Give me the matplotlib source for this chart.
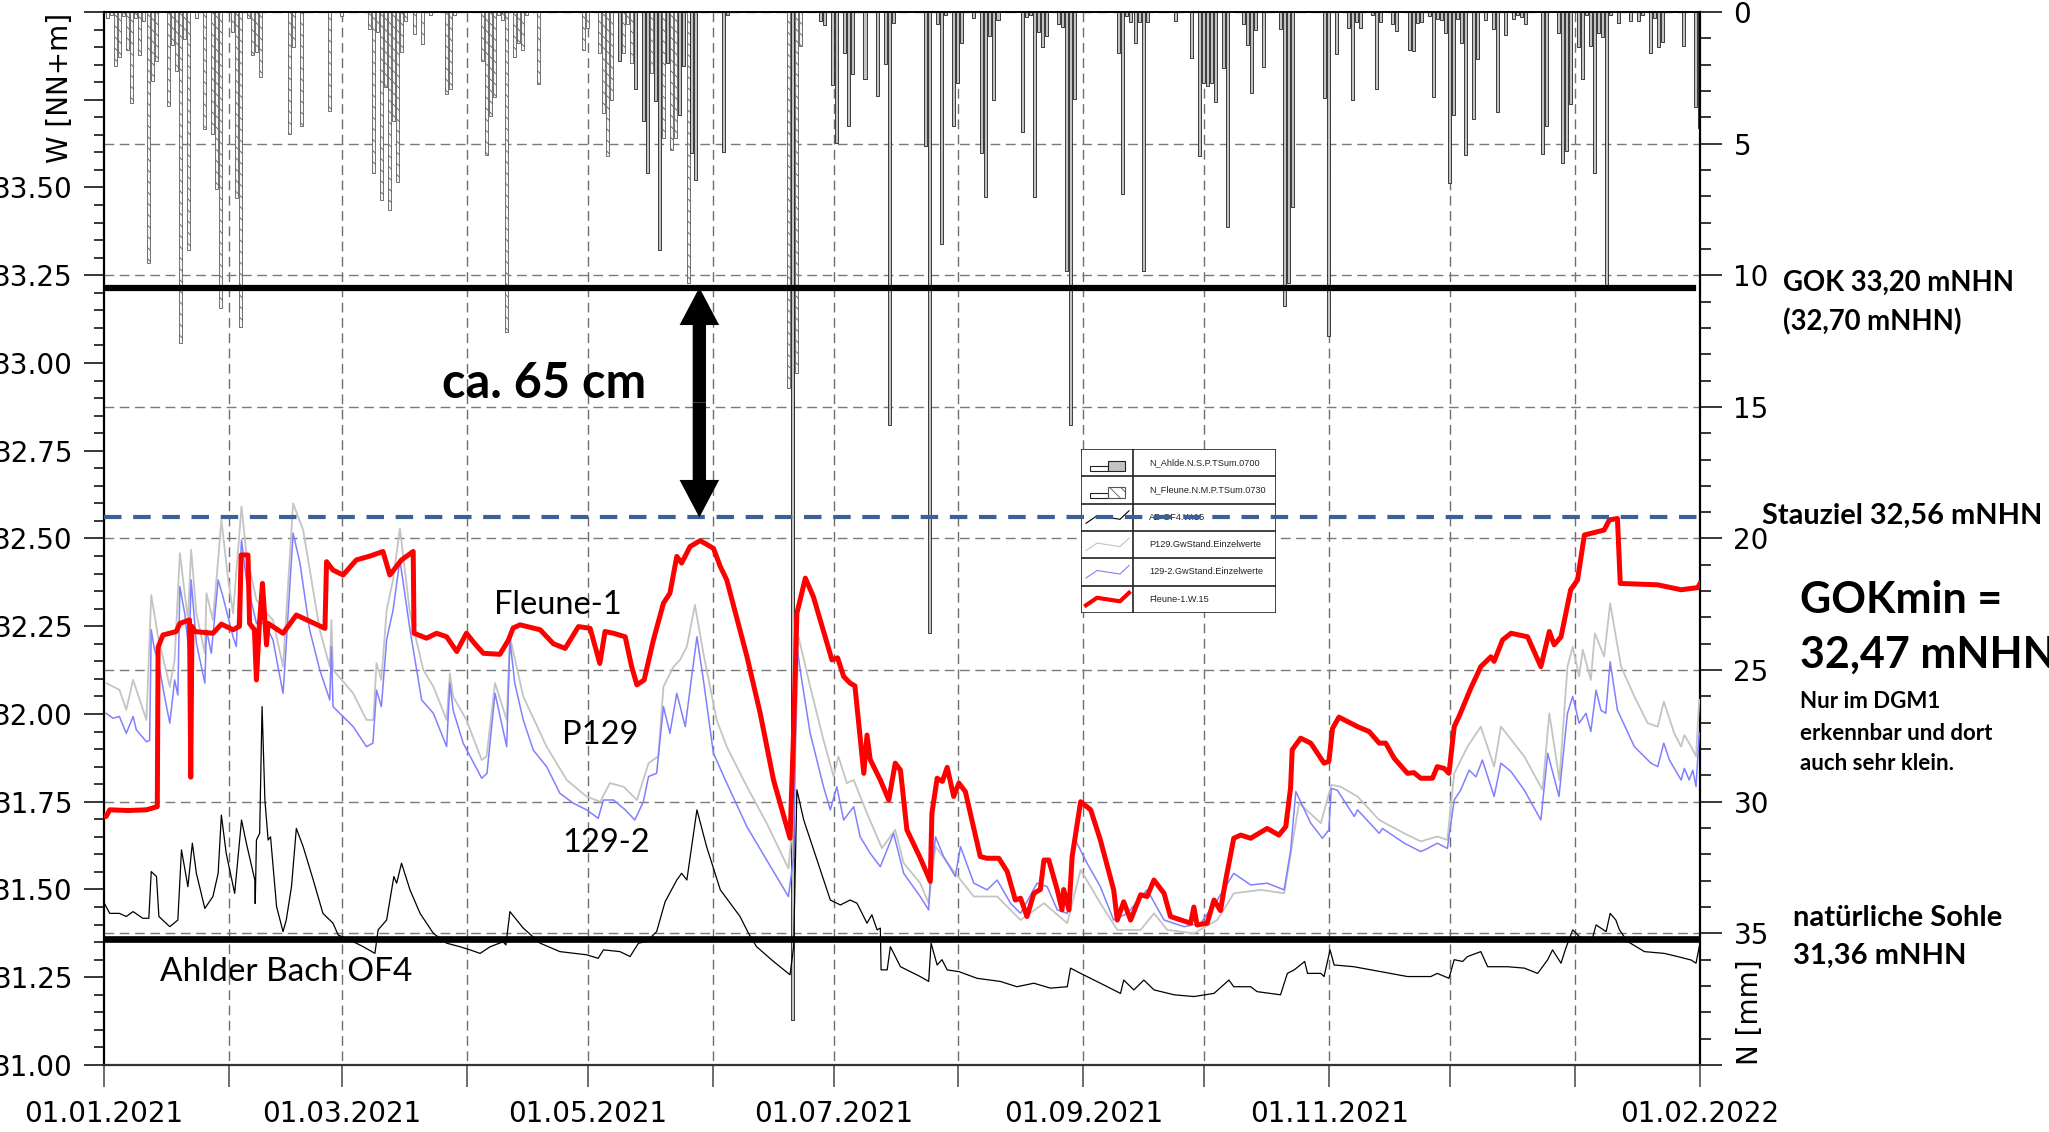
import numpy as np
import matplotlib as mpl
mpl.use('Agg')
import matplotlib.pyplot as plt
from matplotlib.patches import Rectangle
from matplotlib.ticker import MultipleLocator, FuncFormatter

start = np.datetime64('2021-01-01T00:00')
end = np.datetime64('2022-02-01T00:00')

# water levels [m NHN], x = days since 01.01.2021
fleune_day = [0.0, 0.5, 1.4, 6, 10.5, 13.2, 13.4, 14.6, 17.9, 18.8, 21.2, 21.5, 21.8, 22.5, 27.0, 29.1, 32.0, 33.6, 34.0,
              35.7, 36.1, 37.3, 37.8, 38.5, 39.3, 40.0, 40.3, 40.7, 44.4, 47.7, 54.8, 55.2, 56.8, 59.3, 62.6, 66, 69.2,
              70.9, 73.8, 76.7, 76.9, 80.0, 82.5, 85.0, 87.5, 89.9, 92, 94.1, 98.2, 100.3, 101.5, 103.2, 108.2, 111.5,
              114.4, 117.7, 120.6, 123.0, 124.3, 126.4, 129.3, 130.9, 132.2, 134.0, 136.3, 138.8, 140.4, 142.1, 143.3,
              145.4, 147.9, 151.2, 152.9, 154.5, 159.5, 162.8, 166.1, 170.2, 171.1, 171.9, 174.0, 176.0, 180.6, 182.0,
              183.5, 185.1, 186.3, 188.5, 189.3, 190.1, 192.6, 194.7, 196.3, 197.6, 199.2, 202.5, 205.0, 205.4, 206.7,
              208.0, 209.2, 210.8, 212.1, 213.7, 217.4, 219.0, 222.0, 224.1, 226.1, 227.4, 229.0, 230.7, 232.3, 233.2,
              234.4, 236.5, 237.7, 238.1, 239.4, 240.2, 242.3, 244.8, 247.2, 250.5, 251.4, 253.0, 254.7, 257.2, 258.8,
              260.5, 263.0, 264.6, 269.6, 270.4, 271.2, 273.7, 275.4, 277.0, 278.3, 280.3, 282.0, 284.5, 288.6, 291.5,
              293.2, 294.4, 294.8, 296.9, 299.4, 302.7, 303.9, 304.8, 306.4, 311.0, 313.9, 316.4, 318.0, 320.1, 323.4,
              325.0, 326.7, 329.6, 330.8, 332.5, 333.7, 335.0, 336.2, 339.1, 341.6, 344.1, 344.9, 347.0, 349.1, 353.2,
              356.5, 358.6, 359.8, 361.5, 363.9, 365.6, 367.3, 372.2, 373.5, 375.5, 376.2, 385.5, 391.3, 395.4, 396.0]
fleune_w = [31.71, 31.708, 31.727, 31.725, 31.727, 31.736, 32.19, 32.225, 32.235, 32.258, 32.268, 31.82, 32.25, 32.235,
            32.23, 32.256, 32.24, 32.25, 32.453, 32.453, 32.258, 32.24, 32.097, 32.25, 32.372, 32.25, 32.197, 32.258,
            32.23, 32.282, 32.244, 32.434, 32.41, 32.396, 32.439, 32.45, 32.463, 32.396, 32.439, 32.463, 32.23, 32.216,
            32.23, 32.22, 32.178, 32.23, 32.2, 32.173, 32.17, 32.21, 32.245, 32.254, 32.24, 32.2, 32.187, 32.249,
            32.244, 32.144, 32.235, 32.23, 32.22, 32.135, 32.083, 32.097, 32.211, 32.316, 32.344, 32.449, 32.43,
            32.477, 32.494, 32.472, 32.42, 32.382, 32.164, 32.002, 31.812, 31.646, 31.955, 32.287, 32.387, 32.334,
            32.154, 32.16, 32.107, 32.088, 32.08, 31.831, 31.94, 31.87, 31.812, 31.755, 31.86, 31.84, 31.67, 31.59,
            31.523, 31.717, 31.817, 31.808, 31.848, 31.765, 31.803, 31.779, 31.594, 31.589, 31.589, 31.551, 31.47,
            31.475, 31.423, 31.489, 31.5, 31.584, 31.584, 31.499, 31.442, 31.5, 31.442, 31.594, 31.75, 31.727, 31.641,
            31.499, 31.413, 31.465, 31.413, 31.485, 31.48, 31.527, 31.489, 31.423, 31.404, 31.45, 31.399, 31.404,
            31.47, 31.44, 31.527, 31.646, 31.655, 31.646, 31.674, 31.655, 31.679, 31.79, 31.898, 31.931, 31.917,
            31.86, 31.865, 31.959, 31.991, 31.964, 31.95, 31.917, 31.917, 31.874, 31.831, 31.833, 31.817, 31.817,
            31.85, 31.845, 31.831, 31.964, 31.993, 32.073, 32.135, 32.163, 32.15, 32.211, 32.23, 32.22, 32.135,
            32.235, 32.197, 32.22, 32.354, 32.382, 32.51, 32.524, 32.553, 32.557, 32.372, 32.368, 32.354, 32.36, 32.372]

p1292_day = [0.5, 2.2, 3.8, 5.5, 7.2, 8.0, 10.5, 11.3, 11.7, 12.5, 13.4, 15.0, 16.3, 17.5, 18.3, 18.8, 20.0, 21.1, 21.6,
             22.9, 25.0, 25.4, 26.6, 28.3, 29.5, 32.0, 32.8, 34.1, 35.3, 37.8, 39.9, 41.9, 44.4, 44.8, 46.9, 48.6, 51.0,
             53.5, 56.0, 56.4, 56.8, 61.8, 65.1, 66.7, 67.6, 68.8, 70.1, 71.7, 73.4, 75.9, 78.8, 81.7, 85.0, 85.8, 86.6,
             89.1, 93.7, 95.0, 97.0, 99.9, 100.7, 101.9, 104.0, 106.5, 109.8, 113.1, 116.4, 119.7, 122.6, 123.9, 126.4,
             129.3, 131.7, 133.8, 135.1, 137.1, 138.8, 140.4, 142.1, 144.2, 145.8, 147.1, 148.7, 151.2, 154.5, 159.5,
             164.4, 169.8, 171.1, 171.9, 173.1, 175.2, 178.5, 180.2, 181.8, 183.5, 186.0, 187.6, 190.1, 192.6, 195.9,
             198.4, 202.5, 204.6, 205.0, 206.3, 208.3, 211.2, 212.5, 215.8, 219.1, 221.6, 224.9, 227.4, 231.5, 234.0,
             236.5, 239.0, 241.0, 243.9, 247.2, 250.5, 253.9, 258.8, 263.0, 268.0, 272.1, 276.2, 280.3, 284.5, 288.6,
             292.8, 294.4, 295.7, 298.6, 299.4, 302.3, 303.9, 304.5, 306.0, 310.2, 311.0, 316.4, 317.2, 322.6, 326.7,
             328.4, 330.8, 333.3, 335.0, 336.6, 338.7, 340.4, 342.0, 344.9, 346.6, 349.1, 352.4, 356.5, 358.2, 361.0,
             363.1, 364.4, 366.0, 367.7, 368.9, 370.2, 371.4, 372.6, 373.7, 375.5, 379.7, 383.8, 385.5, 387.0, 388.4,
             391.3, 392.1, 393.3, 394.2, 395.0, 395.8]
p1292_w = [32.002, 31.988, 31.993, 31.945, 31.993, 31.955, 31.921, 31.925, 32.24, 32.183, 32.154, 32.05, 31.974, 32.097,
           32.054, 32.363, 32.287, 32.173, 32.382, 32.202, 32.088, 32.24, 32.173, 32.382, 32.334, 32.22, 32.192, 32.496,
           32.382, 32.258, 32.258, 32.211, 32.059, 32.126, 32.515, 32.43, 32.24, 32.126, 32.04, 32.192, 32.021, 31.964,
           31.907, 31.917, 32.068, 32.021, 32.211, 32.296, 32.439, 32.24, 32.04, 32.002, 31.907, 32.088, 32.011,
           31.917, 31.817, 31.831, 32.059, 31.907, 32.211, 32.088, 31.983, 31.897, 31.85, 31.774, 31.746, 31.727,
           31.703, 31.755, 31.755, 31.727, 31.698, 31.75, 31.822, 31.831, 32.021, 31.945, 32.059, 31.964, 32.107,
           32.22, 32.097, 31.888, 31.803, 31.679, 31.584, 31.48, 31.593, 32.192, 32.097, 31.945, 31.793, 31.727,
           31.793, 31.698, 31.736, 31.65, 31.603, 31.565, 31.66, 31.546, 31.48, 31.442, 31.527, 31.65, 31.594, 31.537,
           31.622, 31.518, 31.499, 31.527, 31.461, 31.432, 31.518, 31.508, 31.442, 31.432, 31.641, 31.575, 31.508,
           31.413, 31.432, 31.499, 31.413, 31.394, 31.404, 31.47, 31.546, 31.513, 31.518, 31.499, 31.61, 31.779,
           31.708, 31.689, 31.646, 31.67, 31.788, 31.783, 31.708, 31.727, 31.66, 31.674, 31.632, 31.608, 31.617,
           31.632, 31.617, 31.755, 31.783, 31.84, 31.821, 31.869, 31.765, 31.86, 31.836, 31.783, 31.698, 31.888,
           31.765, 32.002, 32.05, 31.974, 32.002, 31.95, 32.068, 32.011, 32.002, 32.149, 32.011, 31.907, 31.86, 31.85,
           31.917, 31.869, 31.812, 31.845, 31.812, 31.84, 31.793, 31.945]

p129_day = [0.5, 3.8, 5.5, 7.2, 10.5, 11.7, 13.4, 16.3, 17.5, 18.8, 20.8, 21.6, 22.9, 25.0, 25.4, 27.0, 28.3, 29.1, 30.8,
            32.0, 34.1, 35.3, 37.8, 40.3, 41.9, 44.4, 46.9, 49.4, 53.5, 56.0, 56.4, 56.8, 61.8, 65.1, 66.8, 67.6, 68.8,
            70.1, 71.7, 73.4, 75.9, 79.2, 81.7, 85.0, 85.8, 86.6, 89.9, 93.7, 94.9, 97.0, 99.9, 100.7, 104.0, 109.8,
            114.8, 119.7, 123.1, 125.5, 128.9, 132.2, 135.1, 137.5, 138.8, 141.3, 142.9, 144.6, 146.6, 148.7, 152.0,
            154.5, 159.5, 164.4, 169.8, 171.1, 172.3, 175.2, 178.5, 181.0, 182.2, 184.3, 186.0, 189.3, 193.0, 196.3,
            198.4, 202.5, 204.6, 206.3, 211.2, 215.8, 221.6, 227.4, 233.2, 239.0, 242.3, 247.2, 251.4, 257.2, 260.5,
            263.8, 270.4, 276.2, 280.3, 287.0, 292.8, 296.5, 301.9, 304.5, 306.8, 311.0, 316.4, 322.6, 326.7, 330.8,
            333.3, 335.0, 338.3, 341.6, 344.9, 346.6, 352.4, 356.9, 358.6, 361.1, 363.1, 364.4, 366.0, 366.9, 368.9,
            369.9, 372.2, 373.7, 376.4, 379.7, 383.0, 385.5, 387.0, 389.6, 391.3, 392.1, 393.8, 395.0, 395.8]
p129_w = [32.088, 32.069, 32.012, 32.097, 31.983, 32.339, 32.22, 32.078, 32.154, 32.458, 32.268, 32.468, 32.287, 32.173,
          32.344, 32.268, 32.439, 32.553, 32.382, 32.287, 32.591, 32.458, 32.325, 32.287, 32.268, 32.135, 32.6, 32.524,
          32.24, 32.135, 32.268, 32.126, 32.059, 31.983, 31.983, 32.145, 32.097, 32.296, 32.382, 32.529, 32.287,
          32.126, 32.078, 31.983, 32.116, 32.05, 31.983, 31.869, 31.879, 32.088, 31.983, 32.22, 32.05, 31.907, 31.812,
          31.765, 31.75, 31.803, 31.793, 31.755, 31.86, 31.879, 32.078, 32.135, 32.154, 32.192, 32.311, 32.173,
          31.983, 31.907, 31.793, 31.689, 31.56, 31.717, 32.22, 32.078, 31.926, 31.822, 31.879, 31.803, 31.812,
          31.717, 31.618, 31.67, 31.575, 31.518, 31.461, 31.622, 31.546, 31.48, 31.48, 31.413, 31.461, 31.404, 31.556,
          31.461, 31.385, 31.385, 31.432, 31.385, 31.375, 31.413, 31.489, 31.499, 31.489, 31.746, 31.689, 31.798,
          31.793, 31.765, 31.698, 31.66, 31.637, 31.651, 31.641, 31.831, 31.907, 31.964, 31.85, 31.964, 31.879,
          31.784, 32.002, 31.812, 32.135, 32.192, 32.107, 32.183, 32.097, 32.23, 32.164, 32.315, 32.135, 32.05,
          31.974, 31.964, 32.035, 31.945, 31.907, 31.94, 31.907, 31.879, 32.04]

ab_day = [0.1, 1.4, 3.8, 5.5, 7.2, 9.6, 11.1, 11.7, 13.0, 13.6, 16.3, 18.3, 19.2, 20.8, 21.9, 22.9, 25.0, 27.0, 28.3, 29.1,
          30.3, 32.4, 34.1, 35.3, 37.4, 37.5, 37.8, 38.6, 39.2, 39.9, 40.7, 41.3, 42.8, 44.4, 45.2, 46.5, 47.7, 49.4,
          51.9, 54.3, 56.8, 58.1, 61.0, 64.3, 67.2, 68.0, 70.1, 71.9, 72.6, 73.8, 75.9, 78.4, 81.7, 85.0, 88.3, 90.8,
          93.3, 95.8, 99.0, 99.7, 100.7, 104.0, 108.2, 113.1, 119.7, 122.6, 123.9, 128.0, 130.5, 132.6, 134.6, 137.1,
          139.2, 142.1, 143.3, 144.6, 147.1, 149.5, 152.9, 157.8, 159.9, 161.9, 166.1, 170.2, 171.1, 171.9, 173.6,
          176.9, 180.2, 182.7, 185.1, 186.8, 189.3, 190.5, 191.8, 192.6, 192.8, 194.3, 195.1, 197.6, 202.5, 204.6,
          205.2, 206.7, 207.9, 209.2, 212.1, 216.6, 222.4, 226.5, 230.7, 234.8, 239.0, 239.8, 242.3, 247.2, 252.2,
          253.0, 255.5, 258.0, 260.5, 265.5, 270.4, 275.4, 279.1, 280.3, 284.5, 286.1, 291.9, 293.6, 295.3, 297.9,
          298.6, 301.9, 302.7, 304.2, 305.2, 310.1, 316.8, 323.4, 329.2, 330.8, 333.7, 335.0, 337.1, 338.3, 341.6,
          343.3, 348.2, 352.4, 355.7, 358.2, 359.4, 361.5, 362.7, 364.4, 367.3, 369.3, 370.2, 372.7, 373.7, 375.1,
          376.0, 378.0, 382.2, 387.1, 390.4, 393.8, 395.0, 395.8]
ab_w = [31.46, 31.432, 31.432, 31.423, 31.437, 31.418, 31.418, 31.551, 31.537, 31.423, 31.394, 31.413, 31.613, 31.508,
        31.632, 31.546, 31.446, 31.48, 31.546, 31.712, 31.603, 31.489, 31.698, 31.632, 31.527, 31.46, 31.641, 31.66,
        32.021, 31.755, 31.641, 31.65, 31.451, 31.38, 31.413, 31.508, 31.674, 31.622, 31.527, 31.432, 31.404, 31.37,
        31.356, 31.337, 31.318, 31.385, 31.413, 31.537, 31.518, 31.575, 31.499, 31.432, 31.375, 31.347, 31.337,
        31.328, 31.318, 31.337, 31.351, 31.342, 31.437, 31.39, 31.347, 31.323, 31.314, 31.304, 31.328, 31.323,
        31.309, 31.347, 31.352, 31.38, 31.465, 31.527, 31.546, 31.527, 31.727, 31.622, 31.499, 31.423, 31.375,
        31.337, 31.295, 31.257, 31.337, 31.784, 31.698, 31.584, 31.47, 31.456, 31.47, 31.461, 31.404, 31.428,
        31.385, 31.39, 31.271, 31.271, 31.337, 31.28, 31.252, 31.238, 31.347, 31.285, 31.3, 31.271, 31.266, 31.247,
        31.238, 31.223, 31.233, 31.219, 31.223, 31.276, 31.261, 31.233, 31.204, 31.242, 31.214, 31.242, 31.214,
        31.2, 31.195, 31.204, 31.242, 31.223, 31.223, 31.209, 31.2, 31.261, 31.271, 31.295, 31.261, 31.261, 31.252,
        31.328, 31.285, 31.28, 31.266, 31.252, 31.252, 31.261, 31.247, 31.3, 31.295, 31.309, 31.323, 31.28, 31.28,
        31.276, 31.261, 31.3, 31.328, 31.29, 31.333, 31.385, 31.352, 31.361, 31.399, 31.38, 31.432, 31.413, 31.385,
        31.352, 31.323, 31.318, 31.309, 31.299, 31.29, 31.337]

# daily precipitation [mm]
n_fleune_day = [1, 2, 3, 4, 5, 6, 7, 8, 9, 10, 11, 12, 13, 16, 17, 18, 19, 20, 21, 23, 25, 27, 28, 29, 32, 33, 34, 36,
                37, 38, 39, 46, 47, 49, 56, 59, 66, 67, 68, 69, 70, 71, 72, 73, 74, 75, 77, 79, 81, 85, 86, 87, 94, 95,
                96, 97, 98, 99, 100, 102, 103, 104, 105, 108, 119, 120, 123, 124, 125, 126, 129, 130, 131, 136, 139,
                141, 142, 145, 170, 171, 172, 173]
n_fleune_mm = [0.24, 0.11, 2.04, 1.72, 0.14, 1.44, 3.44, 0.24, 1.63, 0.33, 9.54, 2.62, 1.85, 3.56, 1.25, 2.23, 12.56,
               1.04, 9.04, 0.24, 4.44, 4.65, 6.73, 11.25, 0.75, 7.05, 11.95, 0.22, 1.63, 1.53, 2.46, 4.65, 1.34, 4.33,
               3.75, 0.14, 0.65, 6.13, 0.75, 7.14, 2.84, 7.54, 4.13, 6.44, 1.53, 0.33, 0.84, 1.23, 0.1, 3.13, 2.94,
               0.11, 1.85, 5.43, 3.94, 3.24, 0.1, 0.3, 12.14, 1.72, 1.16, 1.44, 0.1, 2.75, 1.44, 0.62, 1.54, 3.85,
               5.46, 3.34, 1.54, 0.46, 1.92, 2.33, 4.8, 5.24, 4.8, 10.3, 14.3, 33.4, 13.7, 1.28]

n_ahlde_day = [128, 132, 134, 135, 137, 138, 140, 143, 144, 146, 147, 154, 155, 171, 178, 179, 181, 182, 184, 185, 186,
               189, 192, 194, 195, 196, 204, 205, 207, 208, 209, 211, 212, 213, 216, 218, 219, 220, 221, 222, 228, 229,
               230, 231, 232, 233, 234, 237, 238, 239, 240, 241, 252, 253, 254, 255, 256, 257, 258, 259, 266, 270,
               272, 273, 274, 275, 276, 278, 279, 283, 284, 285, 286, 288, 292, 293, 294, 295, 303, 304, 306, 309,
               310, 311, 312, 315, 316, 317, 320, 321, 324, 325, 326, 327, 329, 330, 331, 332, 333, 334, 335, 336,
               337, 338, 340, 341, 343, 345, 346, 348, 350, 351, 352, 353, 357, 358, 361, 362, 363, 364, 366, 367,
               368, 369, 370, 371, 372, 373, 374, 376, 379, 381, 382, 384, 385, 386, 387, 392, 395, 396]
n_ahlde_mm = [1.86, 2.94, 4.13, 6.13, 3.38, 9.04, 1.95, 3.91, 2.05, 5.37, 6.38, 5.3, 0.1, 38.3, 0.33, 0.49, 2.77, 4.96,
              1.57, 4.33, 2.35, 2.56, 3.19, 1.99, 15.7, 0.41, 5.1, 23.6, 0.46, 8.82, 0.1, 4.33, 2.71, 1.16, 0.24, 5.37,
              7.01, 0.91, 3.34, 0.3, 4.57, 0.18, 0.11, 7.04, 0.75, 1.32, 0.91, 0.46, 0.56, 9.82, 15.7, 3.3, 1.54, 6.92,
              0.15, 0.37, 1.19, 0.37, 9.82, 0.37, 0.33, 1.76, 5.47, 2.71, 2.81, 2.71, 3.41, 2.14, 8.18, 0.46, 1.25,
              3.09, 0.68, 2.1, 0.66, 11.16, 10.3, 7.42, 3.28, 12.3, 1.59, 0.62, 3.34, 0.37, 0.62, 0.1, 2.94, 0.37,
              0.46, 0.71, 1.44, 1.47, 0.43, 0.37, 0.15, 3.22, 0.28, 0.3, 0.81, 6.51, 3.91, 0.28, 1.19, 5.43, 4.08,
              1.8, 0.3, 0.66, 3.78, 0.87, 0.28, 0.11, 0.2, 0.46, 5.39, 4.33, 0.78, 5.75, 5.27, 3.49, 1.32, 2.56, 0.11,
              1.29, 6.13, 0.81, 0.96, 10.37, 0.1, 0.43, 0.33, 0.33, 0.1, 1.54, 0.24, 1.32, 1.13, 1.29, 3.62, 4.42]

gok_level = 33.215
stauziel_level = 32.56
sohle_level = 31.36
arrow_day = 147.7

month_ticks = np.arange('2021-01', '2022-03', dtype='datetime64[M]').astype('datetime64[D]')
month_labels = ['01.01.2021', '', '01.03.2021', '', '01.05.2021', '', '01.07.2021', '', '01.09.2021', '',
                '01.11.2021', '', '', '01.02.2022']


def to_dates(days):
    minutes = np.round(np.asarray(days, dtype=float) * 1440).astype(np.int64)
    return start + minutes.astype('timedelta64[m]')


plt.rcParams['font.family'] = 'DejaVu Sans'
plt.rcParams['hatch.linewidth'] = 0.6

fig = plt.figure(figsize=(20.49, 11.32), dpi=100)
ax = fig.add_axes([0.0508, 0.05919, 0.7789, 0.93021])
ax2 = ax.twinx()
ax.set_zorder(3)
ax2.set_zorder(1)
ax.patch.set_visible(False)

# precipitation, hanging from the top
ax2.set_ylim(40, 0)
ax2.bar(to_dates(np.array(n_fleune_day) - 0.1), n_fleune_mm, width=np.timedelta64(18, 'h'),
        facecolor='#f6f6f6', edgecolor='#5c5c5c', hatch='\\\\\\', linewidth=0.6, zorder=2)
ax2.bar(to_dates(np.array(n_ahlde_day) - 0.2), n_ahlde_mm, width=np.timedelta64(18, 'h'),
        facecolor='#c2c2c2', edgecolor='#202020', linewidth=0.6, zorder=2)
ax2.yaxis.set_major_locator(MultipleLocator(5))
ax2.yaxis.set_minor_locator(MultipleLocator(1))
ax2.yaxis.set_major_formatter(FuncFormatter(lambda v, p: '' if v > 37 else '%d' % v))
ax2.tick_params(axis='y', which='major', direction='out', length=16, width=1.1, labelsize=20, pad=8)
ax2.tick_params(axis='y', which='minor', direction='out', length=8, width=1.1)
ax2.set_axisbelow(True)
ax2.grid(axis='y', which='major', color='#7a7a7a', linewidth=1.0, linestyle=(0, (7, 4)))
ax2.vlines(month_ticks[1:-1], 0, 40, colors='#6e6e6e', linewidth=1.0, linestyles=(0, (7, 4)), zorder=0.5)
for s in ['left', 'top', 'bottom']:
    ax2.spines[s].set_visible(False)
ax2.spines['right'].set_linewidth(1.6)

# water levels
ax.plot(to_dates(ab_day), ab_w, color='black', lw=0.9, zorder=3)
ax.plot(to_dates(p129_day), p129_w, color='#c4c4c4', lw=1.3, zorder=3)
ax.plot(to_dates(p1292_day), p1292_w, color='#8080ff', lw=1.1, zorder=3)
ax.plot(to_dates(fleune_day), fleune_w, color='#ff0000', lw=3.6, zorder=4, solid_joinstyle='round')

ax.axhline(gok_level, xmin=0, xmax=0.9956, color='black', lw=4.5, zorder=5)
ax.axhline(sohle_level, xmin=0.002, xmax=0.9975, color='black', lw=4.8, zorder=5)
ax.axhline(stauziel_level, color='#3b6197', lw=3, linestyle=(0, (4.2, 2.8)), zorder=5)

ax_x = to_dates([arrow_day])[0]
mid = (gok_level + stauziel_level) / 2
for yend in (gok_level, stauziel_level):
    ax.annotate('', xy=(ax_x, yend), xytext=(ax_x, mid),
                arrowprops=dict(arrowstyle='simple,head_length=0.9,head_width=0.95,tail_width=0.32',
                                mutation_scale=30, color='black', lw=0, shrinkA=0, shrinkB=0), zorder=6)

ax.set_xlim(start, end)
ax.set_ylim(31, 34)
ax.yaxis.set_major_locator(MultipleLocator(0.25))
ax.yaxis.set_minor_locator(MultipleLocator(0.05))
ax.yaxis.set_major_formatter(FuncFormatter(lambda v, p: '%.2f' % v if v < 33.6 else ''))
ax.tick_params(axis='y', which='major', direction='out', length=14.4, width=1.1, labelsize=20, pad=8)
ax.tick_params(axis='y', which='minor', direction='out', length=7.2, width=1.1)
ax.set_xticks(month_ticks)
ax.set_xticklabels(month_labels)
ax.tick_params(axis='x', direction='out', length=16, width=1.1, color='#444444', labelsize=20, pad=9)
ax.spines['right'].set_visible(False)
ax.spines['left'].set_linewidth(1.6)
ax.spines['top'].set_linewidth(1.4)
ax.spines['bottom'].set_linewidth(1.6)
ax.spines['bottom'].set_color('#333333')

ax.text(-0.0279, 0.928, 'W [NN+m]', transform=ax.transAxes, rotation=90, ha='center', va='center', fontsize=20)
ax.text(1.0313, 0.050, 'N [mm]', transform=ax.transAxes, rotation=90, ha='center', va='center', fontsize=20)

lato = 'Lato'
ax.text(0.244, 0.437, 'Fleune-1', transform=ax.transAxes, family=lato, fontsize=23.5, va='center')
ax.text(0.287, 0.313, 'P129', transform=ax.transAxes, family=lato, fontsize=23.5, va='center')
ax.text(0.287, 0.211, '129-2', transform=ax.transAxes, family=lato, fontsize=23.5, va='center')
ax.text(0.035, 0.088, 'Ahlder Bach OF4', transform=ax.transAxes, family=lato, fontsize=24, va='center')


def ftext(x, y, s, size, weight='bold'):
    fig.text(x / 2049, 1 - y / 1132, s, family=lato, fontsize=size, weight=weight, ha='left', va='center')


ftext(442, 384, 'ca. 65 cm', 35)
ftext(1783, 283, 'GOK 33,20 mNHN', 19.8)
ftext(1783, 322, '(32,70 mNHN)', 19.8)
ftext(1762, 516, 'Stauziel 32,56 mNHN', 20.8)
ftext(1800, 600, 'GOKmin =', 31)
ftext(1800, 655, '32,47 mNHN', 31)
ftext(1800, 701, 'Nur im DGM1', 16)
ftext(1800, 733, 'erkennbar und dort', 16)
ftext(1800, 764, 'auch sehr klein.', 16)
ftext(1793, 918, 'natürliche Sohle', 21)
ftext(1793, 956, '31,36 mNHN', 21)

# legend table
lax = fig.add_axes([1081 / 2049, 1 - 613 / 1132, 195 / 2049, 164 / 1132])
lax.set_zorder(2)
lax.set_xlim(0, 195)
lax.set_ylim(164, 0)
lax.axis('off')
lax.add_patch(Rectangle((0, 0), 195, 164, facecolor='white', edgecolor='#222222', lw=1.2))
row_edges = [27.4, 54.7, 82, 109.3, 136.7]
for r in row_edges:
    lax.plot([0, 195], [r, r], color='#222222', lw=1.2)
lax.plot([52.3, 52.3], [0, 164], color='#222222', lw=1.2)
row_mid = [13.7, 41, 68.3, 95.6, 123, 150.3]
names = ['N_Ahlde.N.S.P.TSum.0700', 'N_Fleune.N.M.P.TSum.0730', 'AB-OF4.W.15',
         'P129.GwStand.Einzelwerte', '129-2.GwStand.Einzelwerte', 'Fleune-1.W.15']
for yc, name in zip(row_mid, names):
    lax.text(68, yc, name, va='center', ha='left', fontsize=6.6, family='Liberation Sans', color='#222222')
lax.add_patch(Rectangle((9, 17), 17.7, 4.7, facecolor='white', edgecolor='#222222', lw=0.8))
lax.add_patch(Rectangle((26.7, 11.7), 17.3, 10, facecolor='#c2c2c2', edgecolor='#222222', lw=0.8))
lax.add_patch(Rectangle((9, 44.3), 17.7, 4.4, facecolor='white', edgecolor='#222222', lw=0.8))
lax.add_patch(Rectangle((26.7, 38.3), 17.3, 10.4, facecolor='white', edgecolor='#555555', hatch='\\\\\\', lw=0.8))
icon_x = [5, 16, 39, 48]
icon_dy = [6, -1.5, 2, -6.5]
for yc, col, lw in zip(row_mid[2:], ['black', '#c4c4c4', '#8080ff', '#ff0000'], [0.8, 0.8, 0.8, 3]):
    lax.plot(icon_x, [yc + d for d in icon_dy], color=col, lw=lw)

plt.savefig('out.png', dpi=100, facecolor='white')
